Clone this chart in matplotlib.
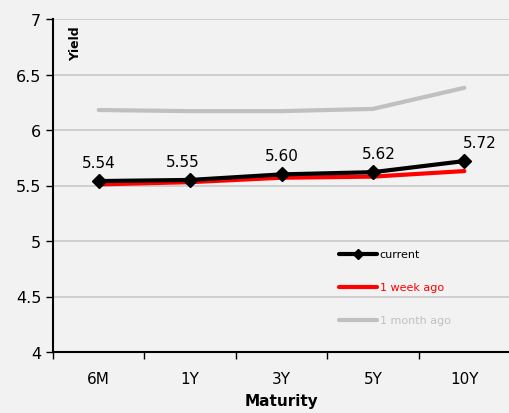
import matplotlib
matplotlib.use("Agg")
import matplotlib.pyplot as plt

maturities = ["6M", "1Y", "3Y", "5Y", "10Y"]
current = [5.54, 5.55, 5.60, 5.62, 5.72]
week_ago = [5.51, 5.53, 5.57, 5.58, 5.63]
month_ago = [6.18, 6.17, 6.17, 6.19, 6.38]

bg = "#f2f2f2"
fig = plt.figure(figsize=(5.09, 4.14), dpi=100, facecolor=bg)
ax = fig.add_axes([53 / 509, 1 - 353 / 414, 457 / 509, 333 / 414], facecolor=bg)

x = list(range(len(maturities)))
ax.plot(x, month_ago, color="#c0c0c0", lw=3, solid_capstyle="round", zorder=2)
ax.plot(x, week_ago, color="#ff0000", lw=3, solid_capstyle="round", zorder=3)
ax.plot(x, current, color="black", lw=3, marker="D", ms=7.5, zorder=4)

# value labels above the current curve, nudged sideways a little
label_dx = [0, -5, 0, 4, 11]
for xi, v, dx in zip(x, current, label_dx):
    ax.annotate(f"{v:.2f}", (xi, v), xytext=(dx, 8), textcoords="offset points",
                ha="center", va="bottom", fontsize=11)

ax.set_xlim(-0.5, len(maturities) - 0.5)
ax.set_ylim(4, 7)
ax.set_yticks([4, 4.5, 5, 5.5, 6, 6.5, 7])
ax.set_yticklabels(["4", "4.5", "5", "5.5", "6", "6.5", "7"])
ax.set_xticks(x)
ax.set_xticklabels(maturities)
ax.set_xticks([i - 0.5 for i in range(len(maturities) + 1)], minor=True)
ax.tick_params(axis="x", which="major", length=0, pad=14, labelsize=11)
ax.tick_params(axis="x", which="minor", length=5, width=1)
ax.tick_params(axis="y", length=5, width=1, labelsize=11.5)
ax.grid(axis="y", color="#c8c8c8", lw=1.2)
ax.set_axisbelow(True)
for s in ["top", "right"]:
    ax.spines[s].set_visible(False)
for s in ["left", "bottom"]:
    ax.spines[s].set_linewidth(1.5)

ax.text(0.035, 0.98, "Yield", transform=ax.transAxes, rotation=90,
        ha="left", va="top", fontsize=9, fontweight="bold")
ax.set_xlabel("Maturity", fontsize=11, fontweight="bold", labelpad=5)

# legend drawn by hand so the labels take their line colours
legend_rows = [("current", "black", True), ("1 week ago", "#ff0000", False),
               ("1 month ago", "#c0c0c0", False)]
for i, (label, col, mk) in enumerate(legend_rows):
    yy = 0.294 - i * 0.099
    ax.plot([0.625, 0.71], [yy, yy], transform=ax.transAxes, color=col, lw=3,
            solid_capstyle="round")
    if mk:
        ax.plot([0.6675], [yy], transform=ax.transAxes, color=col, marker="D", ms=5)
    ax.text(0.715, yy, label, transform=ax.transAxes, color=col,
            ha="left", va="center", fontsize=8)

fig.savefig("out.png", dpi=100, facecolor=bg)
